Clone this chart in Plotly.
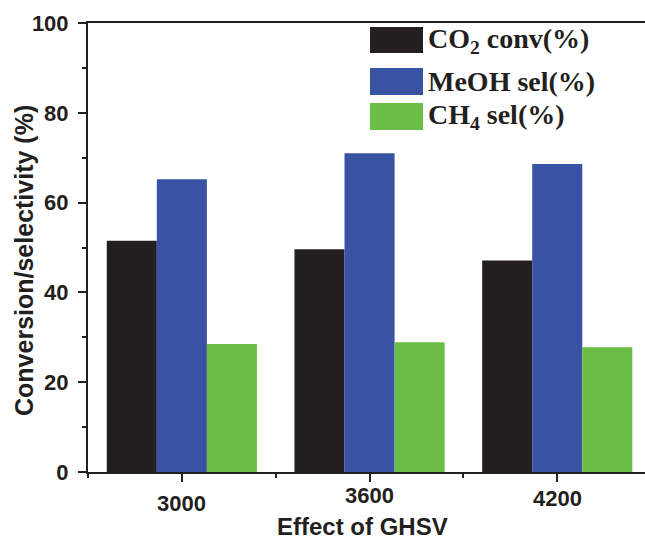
import plotly.graph_objects as go

# ---- data ----
categories = ["3000", "3600", "4200"]
series_names = ["CO<sub>2</sub> conv(%)", "MeOH sel(%)", "CH<sub>4</sub> sel(%)"]
co2_conv = [51.5, 49.6, 47.1]
meoh_sel = [65.2, 71.0, 68.6]
ch4_sel = [28.5, 28.9, 27.8]
y_ticks = [0, 20, 40, 60, 80, 100]

colors = ["#231f20", "#3953a4", "#6abd45"]
ink = "#231f20"

W, H = 645, 541
L, R, T, B = 88, 0, 23, 69
PW, PH = W - L - R, H - T - B


def px_x(px):
    return (px - L) / PW


def px_y(py):
    return (H - B - py) / PH


xpos = list(range(len(categories)))
fig = go.Figure()
for name, vals, c in zip(series_names, [co2_conv, meoh_sel, ch4_sel], colors):
    fig.add_trace(go.Bar(x=xpos, y=vals, name=name, marker=dict(color=c, line=dict(width=0)),
                         showlegend=False))

sans = "Liberation Sans, Arial, sans-serif"
serif = "Liberation Serif, Times New Roman, serif"

fig.update_layout(
    width=W, height=H,
    margin=dict(l=L, r=R, t=T, b=B),
    plot_bgcolor="white", paper_bgcolor="white",
    barmode="group", bargap=0.2, bargroupgap=0,
    font=dict(family=sans, color=ink),
)
fig.update_xaxes(
    range=[-0.5, -0.5 + PW / 187.7],
    tickvals=xpos, ticktext=categories, showticklabels=False,
    ticks="outside", ticklen=8, tickwidth=2, tickcolor=ink,
    minor=dict(tickvals=[-0.5, 0.5, 1.5], ticks="outside", ticklen=4, tickwidth=2, tickcolor=ink),
    showline=True, linewidth=2, linecolor=ink, mirror=True,
    showgrid=False, zeroline=False,
)
fig.update_yaxes(
    range=[0, 100], tickvals=y_ticks,
    ticks="outside", ticklen=8, tickwidth=2, tickcolor=ink,
    minor=dict(dtick=10, ticks="outside", ticklen=4, tickwidth=2, tickcolor=ink),
    tickfont=dict(family=sans, size=22, color=ink, weight="bold"),
    ticklabelstandoff=5,
    showline=True, linewidth=2, linecolor=ink,
    showgrid=False, zeroline=False,
)

# x tick labels (individually offset as in the reference)
label_shift = [-31, -23, -26]
for xi, lab, sh in zip(xpos, categories, label_shift):
    fig.add_annotation(x=xi, y=0, xref="x", yref="y", text="<b>%s</b>" % lab,
                       showarrow=False, yanchor="middle", yshift=sh,
                       font=dict(family=sans, size=22, color=ink))

# axis titles
fig.add_annotation(x=px_x(362), y=0, xref="paper", yref="paper",
                   text="<b>Effect of GHSV</b>", showarrow=False,
                   xanchor="center", yanchor="bottom", yshift=-B,
                   borderpad=0,
                   font=dict(family=sans, size=24, color=ink))
fig.add_annotation(x=px_x(24), y=px_y(261), xref="paper", yref="paper",
                   text="<b>Conversion/selectivity (%)</b>", showarrow=False, textangle=-90,
                   xanchor="center", yanchor="middle",
                   font=dict(family=sans, size=25, color=ink))

# legend (drawn manually to match the large swatches)
rows = [(27, 53), (68, 95), (103, 130)]
for (y0, y1), name, c in zip(rows, series_names, colors):
    fig.add_shape(type="rect", xref="paper", yref="paper",
                  x0=px_x(370), x1=px_x(423), y0=px_y(y1), y1=px_y(y0),
                  fillcolor=c, line=dict(width=0), layer="above")
    fig.add_annotation(x=px_x(426), y=px_y((y0 + y1) / 2), xref="paper", yref="paper",
                       text="<b>%s</b>" % name, showarrow=False,
                       xanchor="left", yanchor="middle",
                       font=dict(family=serif, size=28, color=ink))

fig.write_html("out.html")
